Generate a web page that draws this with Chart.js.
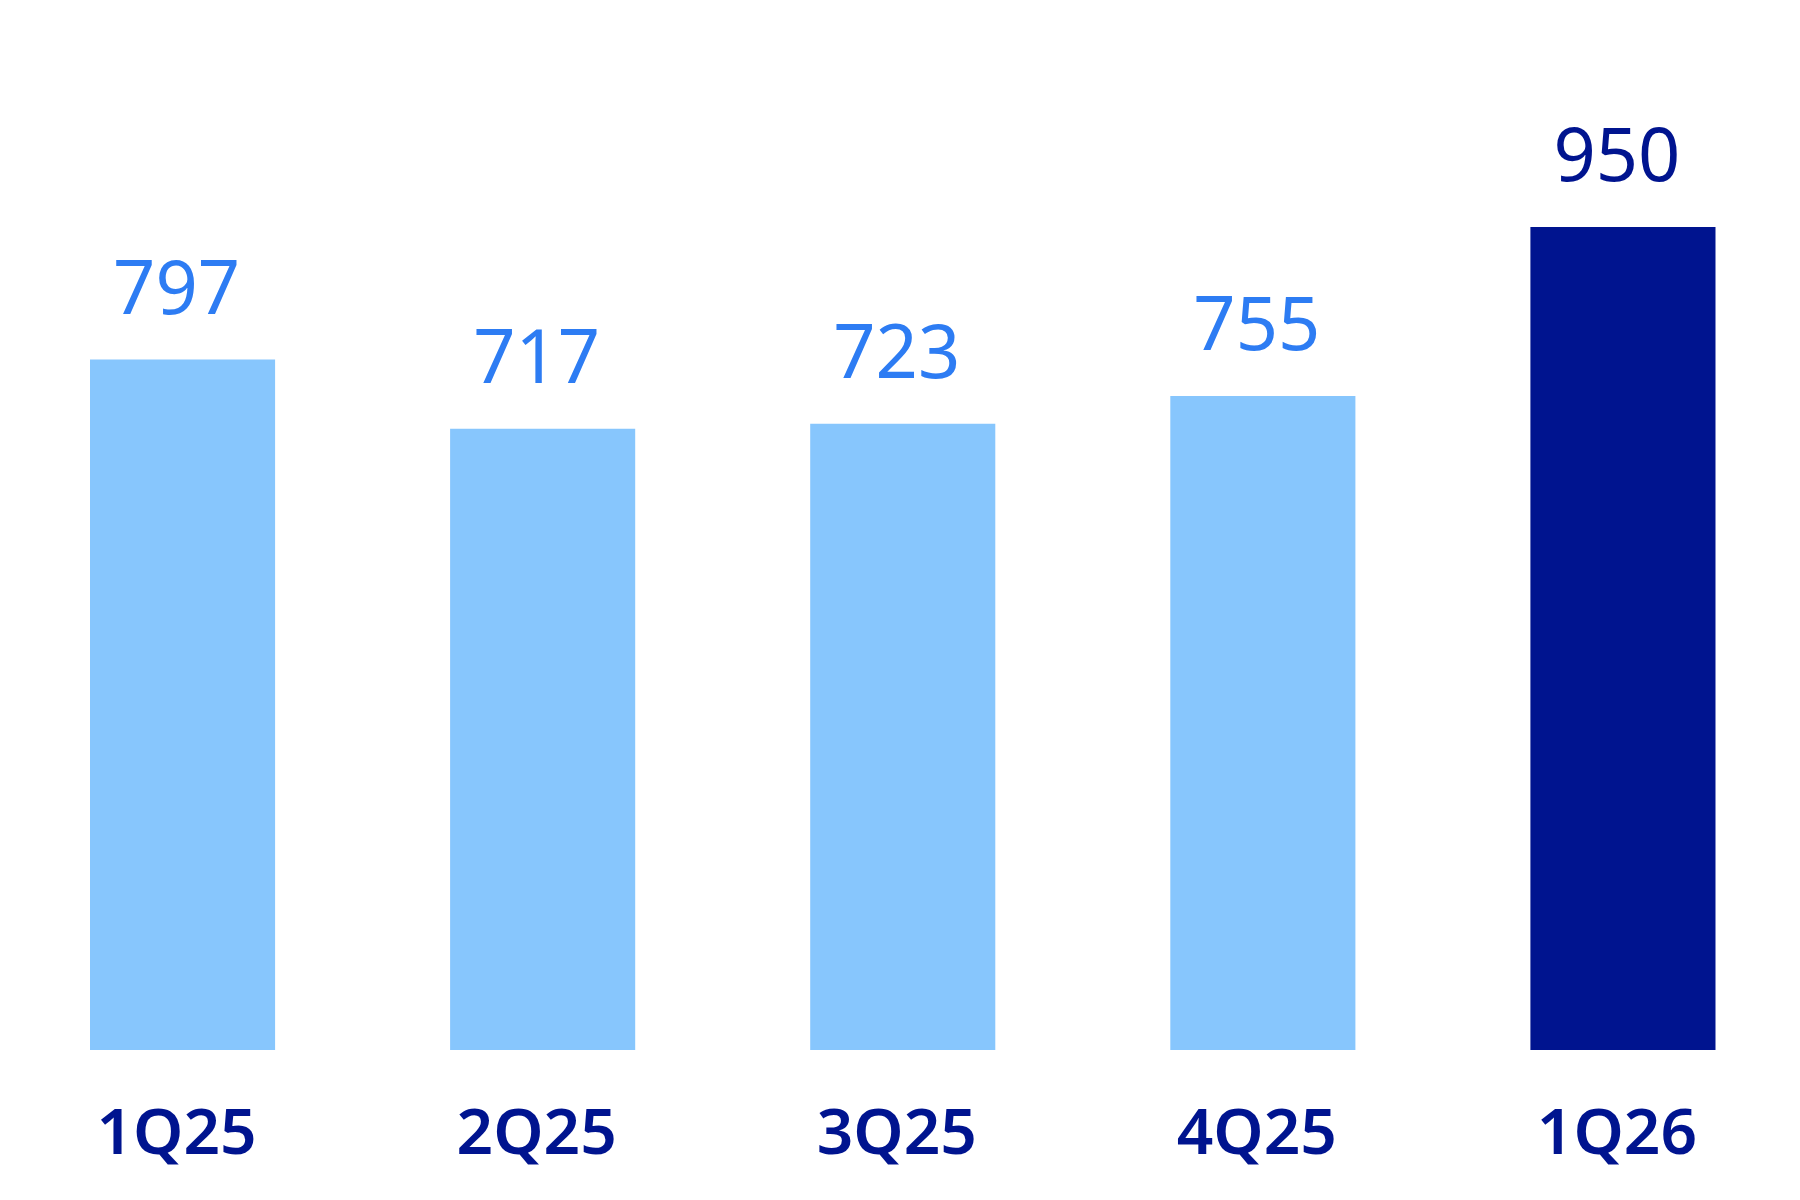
<!DOCTYPE html>
<html>
<head>
<meta charset="utf-8">
<script src="https://cdn.jsdelivr.net/npm/chart.js@4.4.1/dist/chart.umd.min.js"></script>
<style>
  html, body { margin: 0; padding: 0; background: #fff; overflow: hidden; }
  #wrap { width: 1803px; height: 1200px; }
</style>
</head>
<body>
<div id="wrap"><canvas id="chart"></canvas></div>
<script>
// Quarterly values
const quarters = ['1Q25', '2Q25', '3Q25', '4Q25', '1Q26'];
const values = [797, 717, 723, 755, 950];

const lightBlue = '#87C6FD';
const darkNavy = '#00148F';
const labelBlue = '#2D7CF3';

const barColors = values.map((v, i) => i === values.length - 1 ? darkNavy : lightBlue);
const valueColors = values.map((v, i) => i === values.length - 1 ? darkNavy : labelBlue);

// draws the number above each bar
const valueLabels = {
  id: 'valueLabels',
  afterDatasetsDraw(chart) {
    const ctx = chart.ctx;
    const meta = chart.getDatasetMeta(0);
    ctx.save();
    ctx.font = '400 74px "Noto Sans"';
    ctx.textAlign = 'center';
    ctx.textBaseline = 'alphabetic';
    meta.data.forEach((bar, i) => {
      ctx.fillStyle = valueColors[i];
      ctx.fillText(String(values[i]), bar.x - 6, bar.y - 46);
    });
    ctx.restore();
  }
};

const ctx = document.getElementById('chart').getContext('2d');
const chart = new Chart(ctx, {
  type: 'bar',
  data: {
    labels: quarters,
    datasets: [{
      data: values,
      backgroundColor: barColors,
      borderWidth: 0,
      barPercentage: 0.514,
      categoryPercentage: 1
    }]
  },
  options: {
    responsive: true,
    maintainAspectRatio: false,
    animation: false,
    layout: { padding: { left: 2.5, right: 0, top: 0, bottom: 0 } },
    plugins: {
      legend: { display: false },
      tooltip: { enabled: false }
    },
    scales: {
      x: {
        grid: { display: false, drawTicks: false },
        border: { display: false },
        ticks: {
          color: darkNavy,
          font: { family: '"Noto Sans"', size: 64, weight: '600' },
          padding: 47,
          labelOffset: -6
        },
        afterFit(scale) { scale.height = 150; }
      },
      y: {
        display: false,
        min: 0,
        max: 1212
      }
    }
  },
  plugins: [valueLabels]
});
</script>
</body>
</html>
